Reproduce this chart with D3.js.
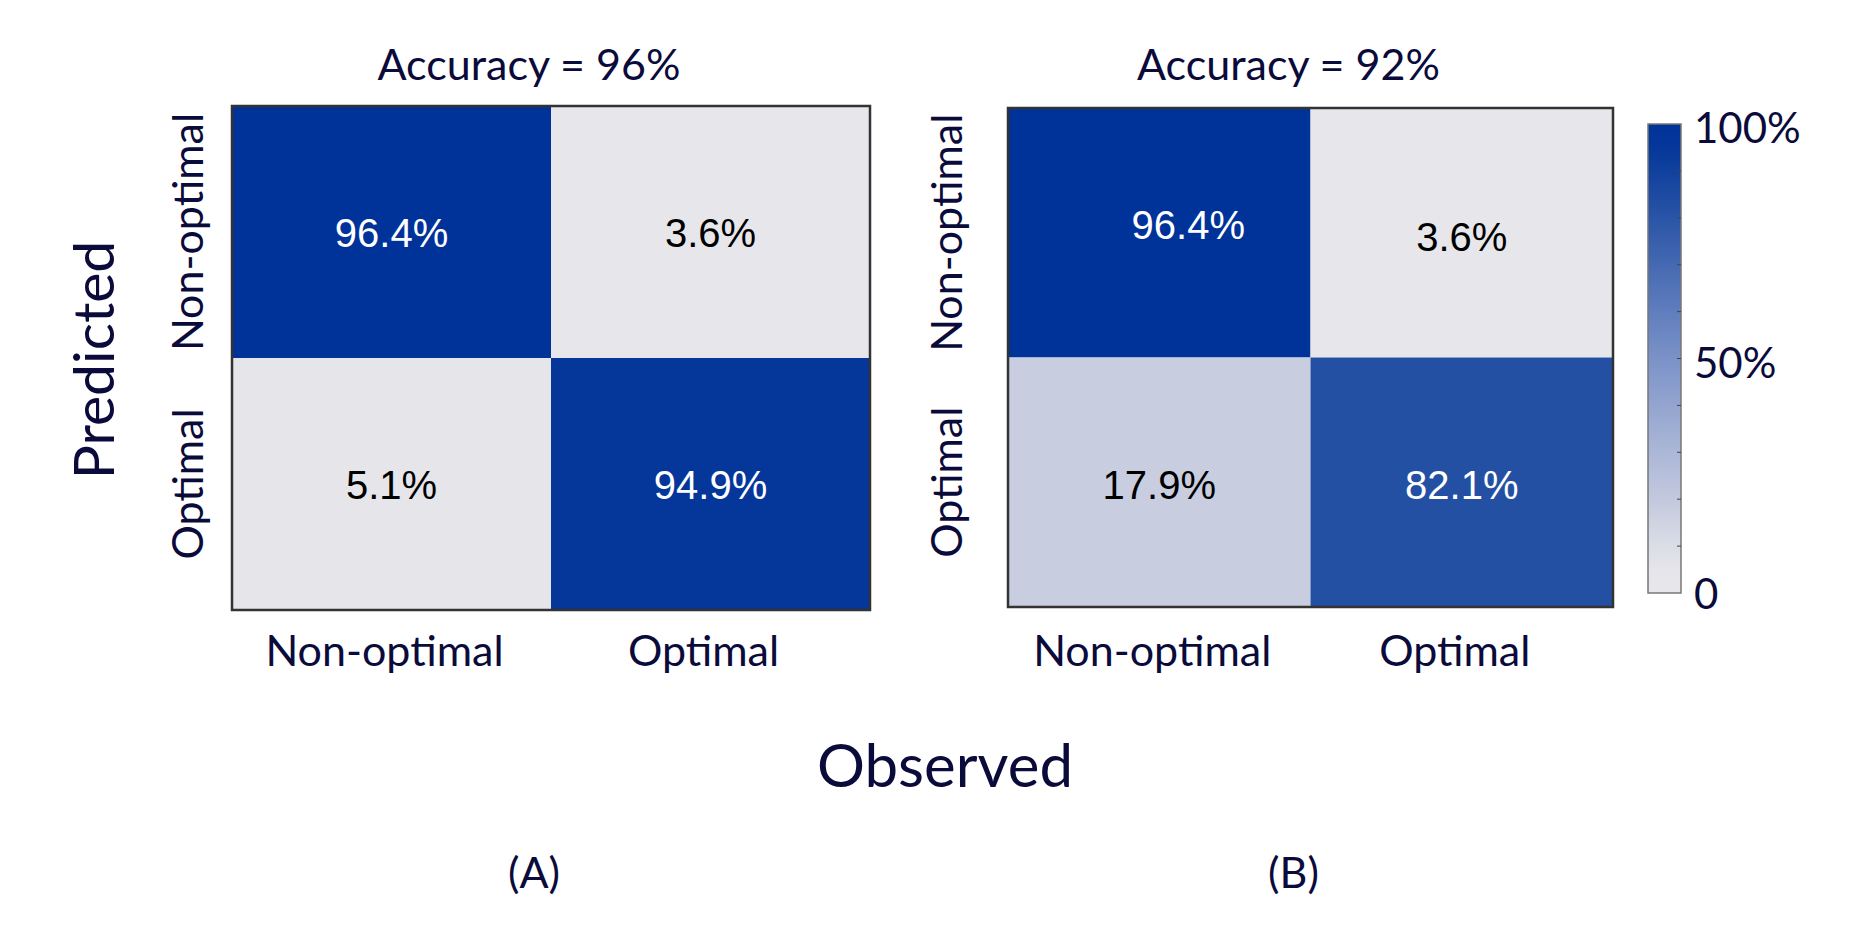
<!DOCTYPE html>
<html>
<head>
    <title>Confusion matrices</title>
    <script src="https://d3js.org/d3.v7.min.js"></script>
    <style>
        body {
            margin: 0;
            background: #ffffff;
        }
        svg text {
            font-family: 'Lato', 'Open Sans', sans-serif;
        }
    </style>
</head>
<body>
    <div id="chart"></div>

    <script>
        // categories (same for predicted rows and observed columns)
        const categories = ['Non-optimal', 'Optimal'];

        // rows = predicted, columns = observed (percent)
        const valuesA = [[96.4, 3.6], [5.1, 94.9]];
        const valuesB = [[96.4, 3.6], [17.9, 82.1]];

        const accuracies = [96, 92];
        const panelNames = ['(A)', '(B)'];

        const colorbarTicks = [0, 50, 100];
        const colorbarTickLabels = ['0', '50%', '100%'];

        const width = 1869;
        const height = 940;
        const ink = '#0b0b3b';

        const svg = d3.select('#chart')
            .append('svg')
            .attr('width', width)
            .attr('height', height);

        // colour map: near flat grey at the bottom, deep blue at the top
        const color = d3.scaleLinear()
            .domain([0, 6, 17.9, 50, 82.1, 94.9, 96.4, 100])
            .range(['#e7e7ec', '#e5e5ea', '#c8cde0', '#7b92c8', '#2450a4', '#05379a', '#003399', '#003399'])
            .clamp(true);

        // panel boxes (left, top, right, bottom) and y-label baseline
        // nudge[row][col] = [dx, dy] for the value label
        const panels = [
            { values: valuesA, x0: 232, x1: 870, y0: 106, y1: 610, yLab: 203,
              nudge: [[[0, 0], [0, 0]], [[0, 0], [0, 0]]] },
            { values: valuesB, x0: 1008, x1: 1613, y0: 108, y1: 607, yLab: 962,
              nudge: [[[29, -9], [0, 3]], [[0, 2], [0, 2]]] }
        ];

        panels.forEach((p, i) => {
            const x = d3.scaleBand().domain(categories).range([p.x0, p.x1]);
            const y = d3.scaleBand().domain(categories).range([p.y0, p.y1]);
            const g = svg.append('g');

            const cells = [];
            categories.forEach((rowCat, r) => {
                categories.forEach((colCat, c) => {
                    cells.push({ row: rowCat, col: colCat, value: p.values[r][c], r: r, c: c });
                });
            });

            g.selectAll('rect.cell')
                .data(cells)
                .enter().append('rect')
                .attr('class', 'cell')
                .attr('x', d => x(d.col))
                .attr('y', d => y(d.row))
                .attr('width', x.bandwidth())
                .attr('height', y.bandwidth())
                .attr('fill', d => color(d.value));

            g.selectAll('text.val')
                .data(cells)
                .enter().append('text')
                .attr('class', 'val')
                .attr('x', d => x(d.col) + x.bandwidth() / 2 + p.nudge[d.r][d.c][0])
                .attr('y', d => y(d.row) + y.bandwidth() / 2 + 15 + p.nudge[d.r][d.c][1])
                .attr('text-anchor', 'middle')
                .style('font-family', "'Liberation Sans', Arial, sans-serif")
                .attr('font-size', 40)
                .attr('fill', d => d.value > 50 ? '#ffffff' : '#000000')
                .text(d => d.value.toFixed(1) + '%');

            // frame
            g.append('rect')
                .attr('x', p.x0)
                .attr('y', p.y0)
                .attr('width', p.x1 - p.x0)
                .attr('height', p.y1 - p.y0)
                .attr('fill', 'none')
                .attr('stroke', '#333333')
                .attr('stroke-width', 2.5);

            // observed tick labels
            g.selectAll('text.xlab')
                .data(categories)
                .enter().append('text')
                .attr('class', 'xlab')
                .attr('x', d => x(d) + x.bandwidth() / 2 - 7)
                .attr('y', 666)
                .attr('text-anchor', 'middle')
                .attr('font-size', 43)
                .attr('fill', ink)
                .text(d => d);

            // predicted tick labels (rotated)
            g.selectAll('text.ylab')
                .data(categories)
                .enter().append('text')
                .attr('class', 'ylab')
                .attr('transform', d => `translate(${p.yLab},${y(d) + y.bandwidth() / 2}) rotate(-90)`)
                .attr('text-anchor', 'middle')
                .attr('font-size', 43)
                .attr('fill', ink)
                .text(d => d);

            // title
            g.append('text')
                .attr('x', (p.x0 + p.x1) / 2 - 22)
                .attr('y', 80)
                .attr('text-anchor', 'middle')
                .attr('font-size', 43)
                .attr('fill', ink)
                .text(`Accuracy = ${accuracies[i]}%`);

            // panel tag
            g.append('text')
                .attr('x', (p.x0 + p.x1) / 2 - 17)
                .attr('y', 888)
                .attr('text-anchor', 'middle')
                .attr('font-size', 43)
                .attr('fill', ink)
                .text(panelNames[i]);
        });

        // axis titles
        svg.append('text')
            .attr('transform', 'translate(114,360) rotate(-90)')
            .attr('text-anchor', 'middle')
            .attr('font-size', 57)
            .attr('fill', ink)
            .text('Predicted');

        svg.append('text')
            .attr('x', 945)
            .attr('y', 787)
            .attr('text-anchor', 'middle')
            .attr('font-size', 60)
            .attr('fill', ink)
            .text('Observed');

        // colour bar
        const cb = { x: 1648, w: 33, y0: 124, y1: 593 };
        const cbScale = d3.scaleLinear().domain([0, 100]).range([cb.y1, cb.y0]);

        const grad = svg.append('defs').append('linearGradient')
            .attr('id', 'cbgrad')
            .attr('x1', 0).attr('y1', 1).attr('x2', 0).attr('y2', 0);
        grad.selectAll('stop')
            .data(d3.range(0, 101, 5))
            .enter().append('stop')
            .attr('offset', d => d / 100)
            .attr('stop-color', d => color(d));

        svg.append('rect')
            .attr('x', cb.x)
            .attr('y', cb.y0)
            .attr('width', cb.w)
            .attr('height', cb.y1 - cb.y0)
            .attr('fill', 'url(#cbgrad)')
            .attr('stroke', '#777777')
            .attr('stroke-width', 1.5);

        svg.selectAll('line.cbtick')
            .data(d3.range(10, 100, 10))
            .enter().append('line')
            .attr('class', 'cbtick')
            .attr('x1', cb.x + cb.w - 4)
            .attr('x2', cb.x + cb.w)
            .attr('y1', d => cbScale(d))
            .attr('y2', d => cbScale(d))
            .attr('stroke', '#444444')
            .attr('stroke-width', 1);

        svg.selectAll('text.cblab')
            .data(colorbarTicks)
            .enter().append('text')
            .attr('class', 'cblab')
            .attr('x', 1694)
            .attr('y', (d, i) => cbScale(d) + 16 + (i === 0 ? 0 : 3))
            .attr('font-size', 42)
            .attr('fill', ink)
            .text((d, i) => colorbarTickLabels[i]);
    </script>
</body>
</html>
